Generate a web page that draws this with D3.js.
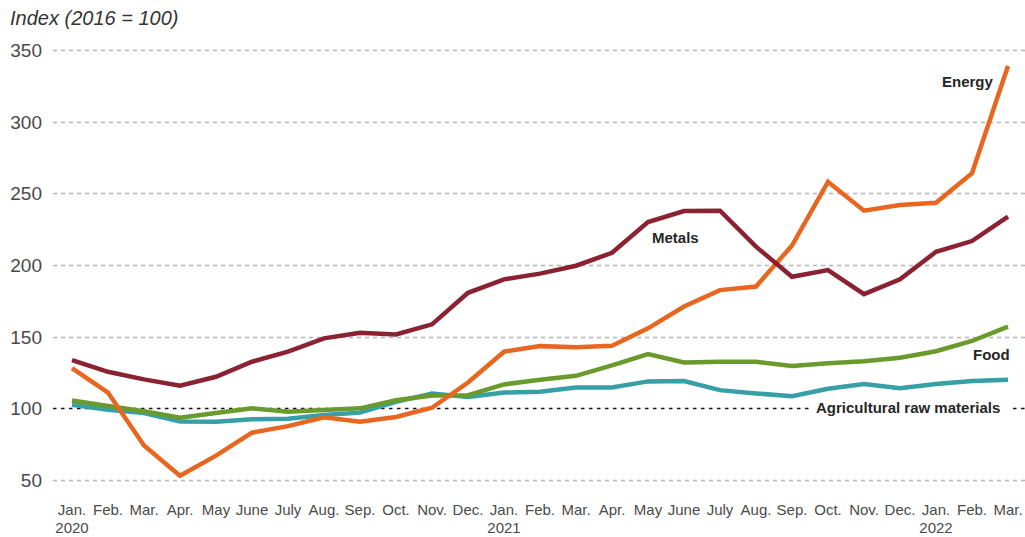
<!DOCTYPE html>
<html>
<head>
<meta charset="utf-8">
<title>Commodity price indices</title>
<script src="https://d3js.org/d3.v7.min.js"></script>
<style>
  body { margin: 0; background: #fff; }
  svg { display: block; font-family: "Liberation Sans", Arial, Helvetica, sans-serif; }
  .grid line { stroke: #b5b5b5; stroke-width: 1.3px; stroke-dasharray: 4 4; }
  .grid line.base { stroke: #111; stroke-dasharray: 3.5 4.5; }
  .ytick { font-size: 19px; fill: #4a4a4a; }
  .month { font-size: 15px; fill: #4a4a4a; }
  .series { fill: none; stroke-width: 4.5px; stroke-linejoin: miter; }
  .lbl { font-size: 15px; font-weight: bold; fill: #262626; }
</style>
</head>
<body>
<div id="chart"></div>
<script>
// months Jan 2020 .. Mar 2022
var months = ["Jan.", "Feb.", "Mar.", "Apr.", "May", "June", "July", "Aug.", "Sep.", "Oct.", "Nov.", "Dec.",
              "Jan.", "Feb.", "Mar.", "Apr.", "May", "June", "July", "Aug.", "Sep.", "Oct.", "Nov.", "Dec.",
              "Jan.", "Feb.", "Mar."];
var years = [{i: 0, label: "2020"}, {i: 12, label: "2021"}, {i: 24, label: "2022"}];
var yTicks = [50, 100, 150, 200, 250, 300, 350];

var energy = [128, 111, 74, 53, 67, 83, 87.6, 93.7, 90.6, 94, 100.4, 118,
              139.5, 143.4, 142.7, 143.6, 155.8, 171, 182.5, 185, 213.6, 258, 237.9, 241.8,
              243.4, 264, 338.8];
var metals = [133.7, 125.5, 120.2, 115.8, 122, 132.5, 139.5, 148.8, 152.7, 151.6, 158.6, 180.6,
              190, 194, 199.5, 208.5, 230, 237.6, 237.9, 212.8, 191.8, 196.5, 179.7, 190,
              209.2, 216.7, 233.7];
var food = [105.5, 101.6, 98, 93.4, 96.7, 100, 97.6, 98.8, 100, 105.7, 109, 109.2,
            116.7, 120, 122.7, 130, 137.8, 132, 132.5, 132.5, 129.5, 131.4, 132.8, 135.3,
            139.8, 147, 157];
var agri = [102.5, 99, 96.7, 90.8, 90.6, 92.3, 92.7, 95.3, 97, 104.5, 110.3, 108,
            111, 111.6, 114.6, 114.5, 118.8, 119, 112.7, 110.4, 108.5, 113.6, 117, 114,
            117, 119, 120];

var seriesList = [
  {name: "Agricultural raw materials", values: agri, color: "#36a0a6"},
  {name: "Food", values: food, color: "#6b9a2c"},
  {name: "Energy", values: energy, color: "#e8661f"},
  {name: "Metals", values: metals, color: "#8a2232"}
];

var width = 1025, height = 537;
var svg = d3.select("#chart").append("svg")
  .attr("width", width).attr("height", height);

var x = d3.scaleLinear().domain([0, months.length - 1]).range([72, 1008]);
var y = d3.scaleLinear().domain([50, 350]).range([480, 50]);

// title
svg.append("text")
  .attr("x", 10).attr("y", 25)
  .style("font-size", "20px").style("font-style", "italic").style("fill", "#333")
  .text("Index (2016 = 100)");

// gridlines
svg.append("g").attr("class", "grid")
  .selectAll("line").data(yTicks).enter().append("line")
  .attr("class", function(d) { return d == 100 ? "base" : null; })
  .attr("x1", 53).attr("x2", width)
  .attr("y1", function(d) { return Math.round(y(d)) + 0.5; })
  .attr("y2", function(d) { return Math.round(y(d)) + 0.5; });

svg.selectAll(".ytick").data(yTicks).enter().append("text")
  .attr("class", "ytick")
  .attr("x", 42).attr("y", function(d) { return y(d) + 7; })
  .attr("text-anchor", "end")
  .text(function(d) { return d; });

// month axis
svg.selectAll(".month").data(months).enter().append("text")
  .attr("class", "month")
  .attr("x", function(d, i) { return x(i); }).attr("y", 515)
  .attr("text-anchor", "middle")
  .text(function(d) { return d; });
svg.selectAll(".year").data(years).enter().append("text")
  .attr("class", "month")
  .attr("x", function(d) { return x(d.i); }).attr("y", 533)
  .attr("text-anchor", "middle")
  .text(function(d) { return d.label; });

// lines
var line = d3.line()
  .x(function(d, i) { return x(i); })
  .y(function(d) { return y(d); });

svg.selectAll(".series").data(seriesList).enter().append("path")
  .attr("class", "series")
  .attr("stroke", function(d) { return d.color; })
  .attr("d", function(d) { return line(d.values); });

// labels
svg.append("rect").attr("x", 810).attr("y", 398).attr("width", 199).attr("height", 20).attr("fill", "#fff");
svg.append("text").attr("class", "lbl").attr("x", 816).attr("y", 413).text("Agricultural raw materials");
svg.append("text").attr("class", "lbl").attr("x", 942).attr("y", 87).text("Energy");
svg.append("text").attr("class", "lbl").attr("x", 652).attr("y", 243).text("Metals");
svg.append("text").attr("class", "lbl").attr("x", 973).attr("y", 360).text("Food");
</script>
</body>
</html>
